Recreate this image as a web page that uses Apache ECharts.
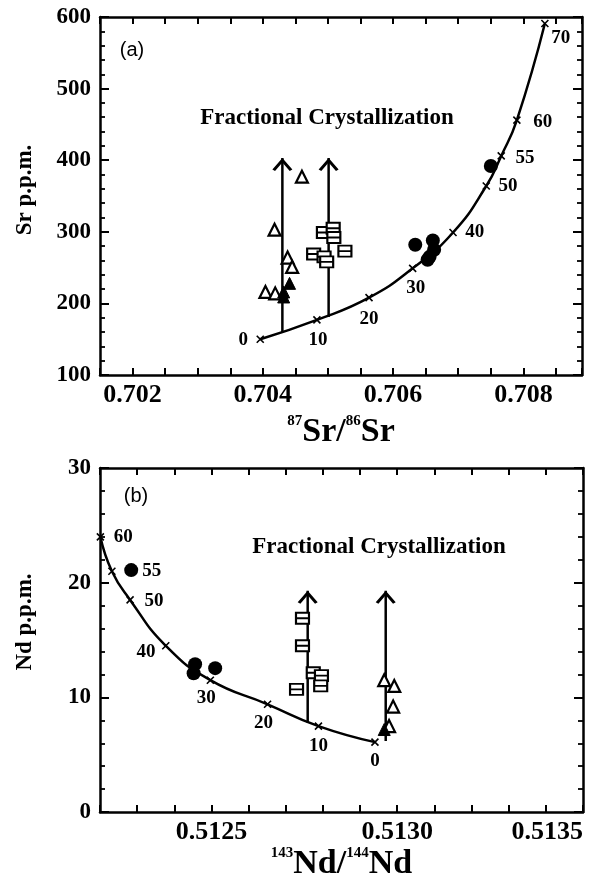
<!DOCTYPE html>
<html><head><meta charset="utf-8">
<script src="https://cdn.jsdelivr.net/npm/echarts@6/dist/echarts.min.js"></script>
<style>html,body{margin:0;padding:0;background:#fff}#c{width:592px;height:882px}</style>
</head><body><div id="c"></div>
<script>
// ---------- Panel (a) data ----------
const mixFracA = [0, 10, 20, 30, 40, 50, 55, 60, 70];
const mixSrRatioA = [0.70396, 0.70483, 0.70563, 0.70630, 0.70692, 0.70743, 0.70766, 0.70790, 0.70833];
const mixSrA = [150, 177, 208, 249, 299, 364, 406, 456, 591];
const arrowXA = [0.70430, 0.70501];
const arrowBaseA = [160, 181];
const arrowTopA = [403, 403];
const triOpenXA = [0.70460, 0.70418, 0.70438, 0.70445, 0.70404, 0.70419];
const triOpenYA = [377, 303, 264, 251, 216, 214];
const triFillXA = [0.70441, 0.70432, 0.70432];
const triFillYA = [228, 216, 209];
const sqXA = [0.70493, 0.70508, 0.70509, 0.70478, 0.70494, 0.70498, 0.70526];
const sqYA = [299, 305, 292, 269, 265, 258, 273];
const circXA = [0.70750, 0.70634, 0.70661, 0.70656, 0.70653, 0.70663];
const circYA = [392, 282, 288, 265, 261, 275];
const xTickLabelsA = [0.702, 0.704, 0.706, 0.708];
const yTickLabelsA = [100, 200, 300, 400, 500, 600];

// ---------- Panel (b) data ----------
const mixFracB = [0, 10, 20, 30, 40, 50, 55, 60];
const mixNdRatioB = [0.512940, 0.512788, 0.512651, 0.512497, 0.512377, 0.512281, 0.512232, 0.512201];
const mixNdB = [6.1, 7.5, 9.4, 11.5, 14.5, 18.5, 21.0, 24.0];
const arrowXB = [0.512759, 0.512969];
const arrowBaseB = [7.8, 6.2];
const arrowTopB = [19.3, 19.3];
const sqXB = [0.512745, 0.512745, 0.512729, 0.512774, 0.512796, 0.512794];
const sqYB = [16.9, 14.5, 10.7, 12.15, 11.9, 11.0];
const triOpenXB = [0.512965, 0.512992, 0.512989, 0.512978];
const triOpenYB = [11.5, 11.0, 9.2, 7.5];
const triFillXB = [0.512965];
const triFillYB = [7.2];
const circXB = [0.512284, 0.512456, 0.512452, 0.512510];
const circYB = [21.1, 12.9, 12.1, 12.55];
const xTickLabelsB = [0.5125, 0.5130, 0.5135];
const yTickLabelsB = [0, 10, 20, 30];

// ---------- styling / layout ----------
const SERIF = '"Liberation Serif", "Times New Roman", serif';
const labelLayoutA = {
  0: {position: 'left', distance: 8, offset: [0, 1]},
  10: {position: 'bottom', distance: 6, offset: [1, 0]},
  20: {position: 'bottom', distance: 8, offset: [0, 0]},
  30: {position: 'bottom', distance: 6, offset: [3, 0]},
  40: {position: 'right', distance: 8, offset: [0, 0]},
  50: {position: 'right', distance: 8, offset: [0, 0]},
  55: {position: 'right', distance: 10, offset: [0, 2]},
  60: {position: 'right', distance: 12, offset: [0, 2]},
  70: {position: 'right', distance: 2, offset: [0, 15]}
};
const labelLayoutB = {
  0: {position: 'bottom', distance: 5, offset: [0, 0]},
  10: {position: 'bottom', distance: 6, offset: [0, 0]},
  20: {position: 'bottom', distance: 5, offset: [-4, 0]},
  30: {position: 'bottom', distance: 4, offset: [-4, 0]},
  40: {position: 'left', distance: 6, offset: [0, 6]},
  50: {position: 'right', distance: 10, offset: [0, 1]},
  55: {position: 'right', distance: 26, offset: [0, 0]},
  60: {position: 'right', distance: 9, offset: [0, 0]}
};
const X_MARK = 'path://M0,0L10,10M10,0L0,10';
const SQUARE = 'path://M0,0H12V10H0ZM0,5H12';
const CHEVRON = 'path://M0,11L9,0L18,11L15.6,12.4L9,4.2L2.4,12.4Z';

const ptLabel = {fontSize: 19, fontWeight: 'bold', fontFamily: SERIF, color: '#000'};

function near(v, list, eps) { return list.some(t => Math.abs(t - v) < eps); }

function xAxisPair(grid, min, max, interval, labels, digits, nameRich, nameGap) {
  const common = {
    gridIndex: grid, type: 'value', min: min, max: max, interval: interval,
    axisLine: {show: true, onZero: false, lineStyle: {color: '#000', width: 2.5}},
    axisTick: {show: true, inside: true, length: 7, lineStyle: {color: '#000', width: 2}},
    splitLine: {show: false}
  };
  return [
    Object.assign({}, common, {
      position: 'bottom',
      axisLabel: {
        show: true, interval: 0, margin: 7, color: '#000', fontSize: 26, fontWeight: 'bold', fontFamily: SERIF,
        alignMaxLabel: 'right',
        formatter: v => near(v, labels, interval / 100) ? v.toFixed(digits) : ''
      },
      name: nameRich, nameLocation: 'middle', nameGap: nameGap,
      nameTextStyle: {
        color: '#000', fontFamily: SERIF, fontWeight: 'bold',
        rich: {
          b: {fontSize: 34, fontWeight: 'bold', fontFamily: SERIF, color: '#000', lineHeight: 36},
          sup: {fontSize: 15, fontWeight: 'bold', fontFamily: SERIF, color: '#000', verticalAlign: 'top', lineHeight: 36}
        }
      }
    }),
    Object.assign({}, common, {position: 'top', axisLabel: {show: false}})
  ];
}

function yAxisPair(grid, min, max, interval, labels) {
  const common = {
    gridIndex: grid, type: 'value', min: min, max: max, interval: interval,
    axisLine: {show: true, onZero: false, lineStyle: {color: '#000', width: 2.5}},
    axisTick: {show: true, inside: true, length: 9, lineStyle: {color: '#000', width: 2}},
    minorTick: {show: true, splitNumber: 5, length: 5, lineStyle: {color: '#000', width: 1.8}},
    splitLine: {show: false}, minorSplitLine: {show: false}
  };
  return [
    Object.assign({}, common, {
      position: 'left',
      axisLabel: {show: true, margin: 9, color: '#000', fontSize: 23, fontWeight: 'bold', fontFamily: SERIF,
        formatter: v => near(v, labels, 1e-6) ? String(v) : ''}
    }),
    Object.assign({}, common, {position: 'right', axisLabel: {show: false}})
  ];
}

function curveSeries(xi, yi, fr, xs, ys, layout) {
  return {
    type: 'line', xAxisIndex: xi, yAxisIndex: yi, smooth: 0.5,
    symbol: X_MARK, symbolSize: 7, showAllSymbol: true,
    lineStyle: {color: '#000', width: 2.5},
    itemStyle: {color: '#000', borderColor: '#000', borderWidth: 1.6, opacity: 1},
    data: fr.map((f, i) => ({
      value: [xs[i], ys[i]],
      label: Object.assign({show: true, formatter: String(f)}, ptLabel, layout[f])
    })),
    z: 3
  };
}

function arrowSeries(xi, yi, xs, base, top) {
  const out = xs.map((x, i) => ({
    type: 'line', xAxisIndex: xi, yAxisIndex: yi, symbol: 'none',
    lineStyle: {color: '#000', width: 2.5},
    data: [[x, base[i]], [x, top[i]]], z: 2
  }));
  out.push({
    type: 'scatter', xAxisIndex: xi, yAxisIndex: yi, symbol: CHEVRON, symbolSize: [20, 13],
    symbolOffset: [0, '50%'], itemStyle: {color: '#000', opacity: 1},
    data: xs.map((x, i) => [x, top[i]]), z: 4
  });
  return out;
}

function scatter(xi, yi, xs, ys, symbol, size, fill, border) {
  return {
    type: 'scatter', xAxisIndex: xi, yAxisIndex: yi, symbol: symbol, symbolSize: size,
    itemStyle: {color: fill, borderColor: '#000', borderWidth: border, opacity: 1},
    data: xs.map((x, i) => [x, ys[i]]), z: 5
  };
}

const chart = echarts.init(document.getElementById('c'), null, {renderer: 'canvas'});
const xa = xAxisPair(0, 0.7015, 0.7089, 0.0005, xTickLabelsA, 3, '{sup|87}{b|Sr/}{sup|86}{b|Sr}', 39);
const xb = xAxisPair(1, 0.5122, 0.5135, 0.0001, xTickLabelsB, 4, '{sup|143}{b|Nd/}{sup|144}{b|Nd}', 29);
const ya = yAxisPair(0, 100, 600, 100, yTickLabelsA);
const yb = yAxisPair(1, 0, 30, 10, yTickLabelsB);

const txt = (x, y, text, size, weight, family, rot) => ({
  type: 'text', x: x, y: y, rotation: rot || 0,
  style: {text: text, fontSize: size, fontWeight: weight, fontFamily: family, fill: '#000', align: 'center', verticalAlign: 'middle'}
});

chart.setOption({
  animation: false,
  backgroundColor: '#fff',
  grid: [
    {left: 100, top: 17, width: 482, height: 358},
    {left: 100, top: 468, width: 483, height: 352}
  ],
  xAxis: [xa[0], xa[1], xb[0], xb[1]],
  yAxis: [ya[0], ya[1], yb[0], yb[1]],
  graphic: [
    txt(132, 50, '(a)', 20, 'normal', '"Liberation Sans", Arial, sans-serif'),
    txt(327, 118, 'Fractional Crystallization', 23, 'bold', SERIF),
    txt(136, 496, '(b)', 20, 'normal', '"Liberation Sans", Arial, sans-serif'),
    txt(379, 547, 'Fractional Crystallization', 23, 'bold', SERIF),
    txt(25, 190, 'Sr p.p.m.', 23, 'bold', SERIF, Math.PI / 2),
    txt(25, 622, 'Nd p.p.m.', 23, 'bold', SERIF, Math.PI / 2)
  ],
  series: [
    curveSeries(0, 0, mixFracA, mixSrRatioA, mixSrA, labelLayoutA),
    ...arrowSeries(0, 0, arrowXA, arrowBaseA, arrowTopA),
    scatter(0, 0, triOpenXA, triOpenYA, 'triangle', 12, '#fff', 2.2),
    scatter(0, 0, triFillXA, triFillYA, 'triangle', 12, '#000', 1),
    scatter(0, 0, sqXA, sqYA, SQUARE, [13, 11], '#fff', 2),
    scatter(0, 0, circXA, circYA, 'circle', 14, '#000', 0),
    curveSeries(2, 2, mixFracB, mixNdRatioB, mixNdB, labelLayoutB),
    ...arrowSeries(2, 2, arrowXB, arrowBaseB, arrowTopB),
    scatter(2, 2, sqXB, sqYB, SQUARE, [13, 11], '#fff', 2),
    scatter(2, 2, triOpenXB, triOpenYB, 'triangle', 12, '#fff', 2.2),
    scatter(2, 2, triFillXB, triFillYB, 'triangle', 12, '#000', 1),
    scatter(2, 2, circXB, circYB, 'circle', 14, '#000', 0)
  ]
});
</script>
</body></html>
